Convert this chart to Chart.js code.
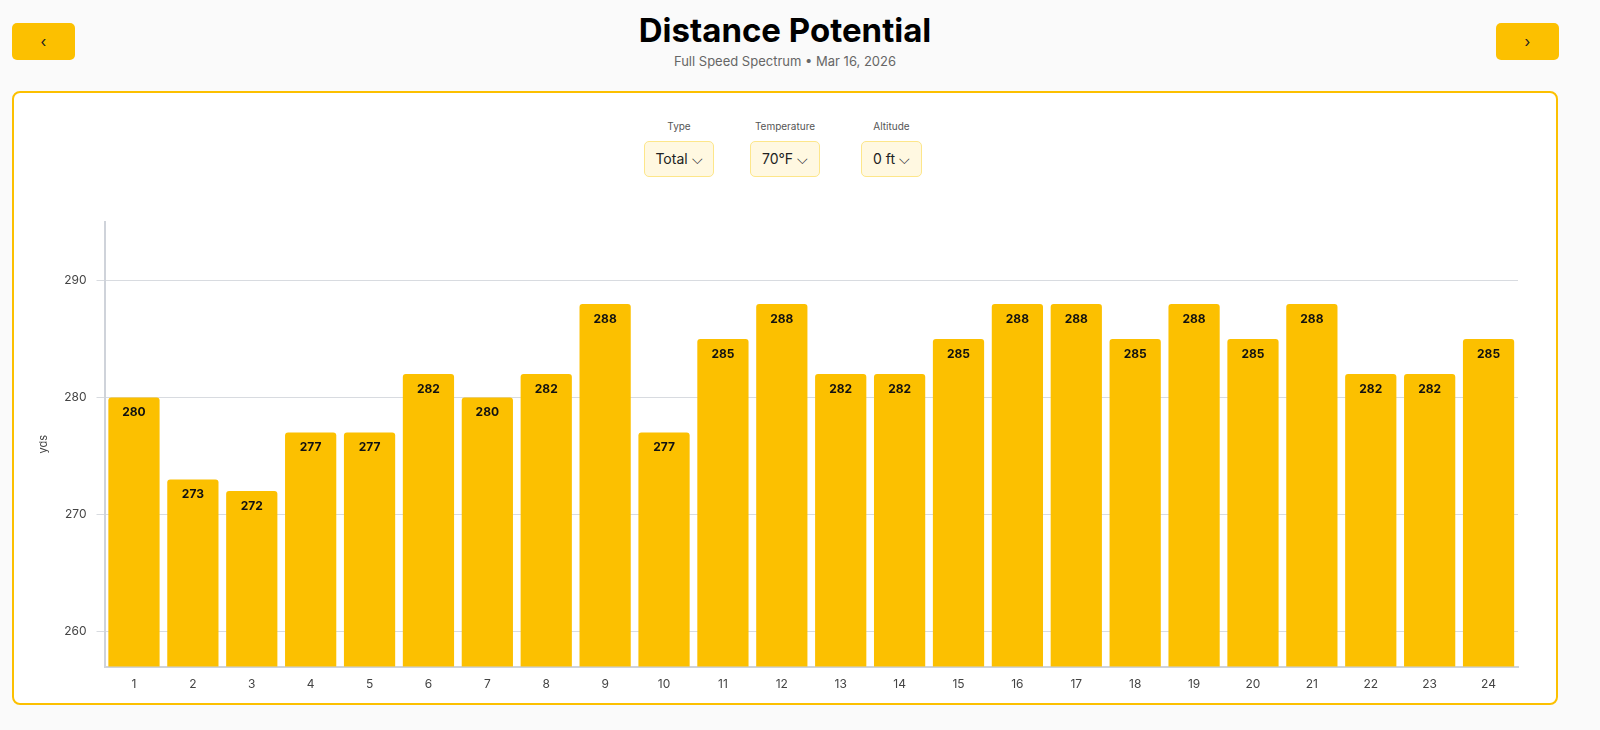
<!DOCTYPE html>
<html>
<head>
<meta charset="utf-8">
<script src="https://cdn.jsdelivr.net/npm/chart.js@4.4.1/dist/chart.umd.min.js"></script>
<style>
  body { margin: 0; background: #fafafa; font-family: Inter, sans-serif; width: 1600px; height: 730px; overflow: hidden; position: relative; }
  .nav { position: absolute; top: 23px; width: 63px; height: 37px; background: #fcc000; border-radius: 5px; font-size: 15px; line-height: 37px; text-align: center; color: #222; }
  h1 { position: absolute; top: 10px; left: 0; width: 1570px; margin: 0; text-align: center; font-size: 33px; font-weight: 700; color: #000; }
  .sub { position: absolute; top: 53px; left: 0; width: 1570px; text-align: center; font-size: 13px; color: #666; }
  .card { position: absolute; left: 12px; top: 91px; width: 1542px; height: 610px; border: 2px solid #fcc000; border-radius: 8px; background: #fff; }
  .ctl { position: absolute; top: 120px; text-align: center; }
  .ctl .lbl { font-size: 10px; color: #555; margin-bottom: 9px; }
  .ctl .box { height: 34px; border: 1px solid #fde68a; background: #fff8e1; border-radius: 5px; font-size: 14px; line-height: 34px; color: #222; padding: 0 9px; }
  canvas { position: absolute; left: 0; top: 0; }
</style>
</head>
<body>
<div class="nav" style="left:12px">&#8249;</div>
<div class="nav" style="left:1496px">&#8250;</div>
<h1>Distance Potential</h1>
<div class="sub">Full Speed Spectrum • Mar 16, 2026</div>
<div class="card"></div>
<div class="ctl" style="left:644px;width:70px"><div class="lbl">Type</div><div class="box">Total ⌵</div></div>
<div class="ctl" style="left:750px;width:70px"><div class="lbl">Temperature</div><div class="box">70°F ⌵</div></div>
<div class="ctl" style="left:861px;width:61px"><div class="lbl">Altitude</div><div class="box">0 ft ⌵</div></div>
<canvas id="chart" width="1600" height="730"></canvas>
<script>
const labels = ['1','2','3','4','5','6','7','8','9','10','11','12','13','14','15','16','17','18','19','20','21','22','23','24'];
const distances = [280, 273, 272, 277, 277, 282, 280, 282, 288, 277, 285, 288, 282, 282, 285, 288, 288, 285, 288, 285, 288, 282, 282, 285];
const yTicks = [260, 270, 280, 290];

// draw value labels inside the top of each bar
const valueLabels = {
  id: 'valueLabels',
  afterDatasetsDraw(chart) {
    const ctx = chart.ctx;
    ctx.save();
    ctx.font = 'bold 12px Inter';
    ctx.fillStyle = '#111';
    ctx.textAlign = 'center';
    ctx.textBaseline = 'top';
    chart.getDatasetMeta(0).data.forEach((bar, i) => {
      ctx.fillText(distances[i], bar.x, bar.y + 9);
    });
    ctx.restore();
  }
};

new Chart(document.getElementById('chart'), {
  type: 'bar',
  data: {
    labels: labels,
    datasets: [{
      data: distances,
      backgroundColor: '#fcc000',
      borderRadius: { topLeft: 3, topRight: 3 },
      borderSkipped: 'bottom',
      categoryPercentage: 0.87,
      barPercentage: 1
    }]
  },
  options: {
    responsive: false,
    animation: false,
    layout: { padding: { left: 33, right: 82, top: 222, bottom: 35 } },
    plugins: { legend: { display: false }, tooltip: { enabled: false } },
    scales: {
      x: {
        grid: { display: false },
        border: { color: '#cfd3da', width: 2 },
        ticks: { color: '#444', font: { family: 'Inter', size: 12 } }
      },
      y: {
        min: 257,
        max: 295,
        afterBuildTicks: axis => { axis.ticks = yTicks.map(v => ({ value: v })); },
        grid: { color: '#d8dbe0' },
        border: { color: '#cfd3da', width: 2 },
        ticks: { color: '#444', padding: 10, font: { family: 'Inter', size: 12 } },
        title: { display: true, text: 'yds', color: '#444', font: { family: 'Inter', size: 11 } }
      }
    }
  },
  plugins: [valueLabels]
});
</script>
</body>
</html>
